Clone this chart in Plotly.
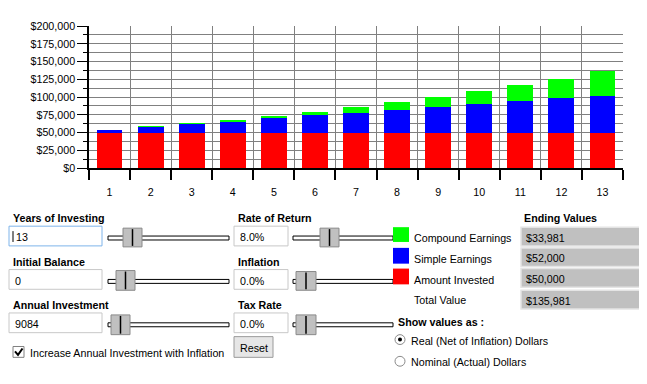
import plotly.graph_objects as go

# ---- data ----
years = list(range(1, 14))
amount_invested = [50000] * 13
simple_earnings = [4000, 8000, 12000, 16000, 20000, 24000, 28000, 32000, 36000, 40000, 44000, 48000, 52000]
compound_earnings = [0, 320, 986, 2024, 3466, 5344, 7691, 10546, 13950, 17946, 22582, 27909, 33981]
y_tick_vals = [0, 25000, 50000, 75000, 100000, 125000, 150000, 175000, 200000]
y_tick_text = ["$0", "$25,000", "$50,000", "$75,000", "$100,000", "$125,000", "$150,000", "$175,000", "$200,000"]
ending_values = ["$33,981", "$52,000", "$50,000", "$135,981"]
legend_labels = ["Compound Earnings", "Simple Earnings", "Amount Invested", "Total Value"]

# page body has an 8px margin; the figure starts at (8, 8)
OFF = 8
W, H = 647 - OFF, 384 - 2 * OFF
L, R, T, B = 89, 623, 24, 168   # plot area in page pixels
FONT = "Liberation Sans"
FS = 10.7
DY = 1.2  # text baseline nudge


def px(x):
    return (x - L) / (R - L)


def py(y):
    return (B - y) / (B - T)


fig = go.Figure()
fig.add_trace(go.Bar(x=years, y=amount_invested, marker=dict(color="#ff0000", line=dict(width=0)), width=0.63))
fig.add_trace(go.Bar(x=years, y=simple_earnings, marker=dict(color="#0000ff", line=dict(width=0)), width=0.63))
fig.add_trace(go.Bar(x=years, y=compound_earnings, marker=dict(color="#00ff00", line=dict(width=0)), width=0.63))

shapes = []
annots = []


def rect(x0, y0, x1, y1, fill, line="rgba(0,0,0,0)", lw=1):
    shapes.append(dict(type="rect", xref="paper", yref="paper", x0=px(x0), x1=px(x1), y0=py(y1), y1=py(y0),
                       fillcolor=fill, line=dict(color=line, width=lw), layer="above"))


def seg(x0, y0, x1, y1, color="black", lw=1):
    shapes.append(dict(type="line", xref="paper", yref="paper", x0=px(x0), x1=px(x1), y0=py(y0), y1=py(y1),
                       line=dict(color=color, width=lw), layer="above"))


def text(x, y, s, bold=False, size=FS, anchor="left", color="#000000"):
    annots.append(dict(xref="paper", yref="paper", x=px(x), y=py(y + DY), text=("<b>%s</b>" % s) if bold else s,
                       showarrow=False, xanchor=anchor, yanchor="middle",
                       font=dict(family=FONT, size=size, color=color)))


def slider(x0, x1, yc, tx0, tx1, ty0, ty1):
    rect(x0, yc - 2, x1, yc + 2, "#ffffff", "#000000", 1)
    rect(tx0, ty0, tx1, ty1, "#c0c0c0", "#8a8a8a", 1)
    seg((tx0 + tx1) / 2, ty0 + 1, (tx0 + tx1) / 2, ty1 - 1, "#000000", 1.5)


# left column
rows = [("Years of Investing", "13", 217, 227, 247, 239, (123, 142, 229, 248)),
        ("Initial Balance", "0", 262, 271, 291, 283, (116, 135, 272, 292)),
        ("Annual Investment", "9084", 306, 315, 335, 327, (111, 130, 317, 337))]
for i, (lab, val, ly, b0, b1, tc, th) in enumerate(rows):
    text(11, ly, lab, bold=True)
    rect(9, b0, 102, b1, "#ffffff", "#7eb4ea" if i == 0 else "#c8c8c8", 1)
    text(13 if i else 14, (b0 + b1) / 2, val)
    slider(108, 229, tc, *th)
seg(13, 232, 13, 243, "#000000", 1)

# right column
rrows = [("Rate of Return", "8.0%", 217, 227, 247, 239, (320, 339, 229, 248)),
         ("Inflation", "0.0%", 262, 271, 291, 283, (296, 316, 273, 292)),
         ("Tax Rate", "0.0%", 306, 315, 335, 327, (296, 316, 317, 337))]
for lab, val, ly, b0, b1, tc, th in rrows:
    text(236, ly, lab, bold=True)
    rect(234, b0, 288, b1, "#ffffff", "#c8c8c8", 1)
    text(238, (b0 + b1) / 2, val)
    slider(293, 393, tc, *th)

# reset button
rect(234, 339, 273, 360, "#e6e6e6", "#9a9a9a", 1)
text(253.5, 349.5, "Reset", anchor="center")

# checkbox
rect(13, 349, 24, 360, "#ffffff", "#808080", 1)
shapes.append(dict(type="path", xref="paper", yref="paper",
                   path="M %f,%f L %f,%f L %f,%f" % (px(15), py(354), px(18), py(357.5), px(22.5), py(351)),
                   line=dict(color="#000000", width=2), layer="above"))
text(28, 354, "Increase Annual Investment with Inflation")

# legend
sq = [("#00ff00", 228, 243), ("#0000ff", 249, 265), ("#ff0000", 270, 286)]
for c, y0, y1 in sq:
    rect(393, y0, 409, y1, c)
for lab, yy in zip(legend_labels, [238, 259, 280, 301]):
    text(412, yy, lab)

# ending values
text(522, 217, "Ending Values", bold=True)
for val, (y0, y1) in zip(ending_values, [(228, 247), (249, 268), (270, 289), (292, 311)]):
    rect(521, y0, 650, y1, "#c0c0c0", "#e4e4e4", 1.5)
    text(524, (y0 + y1) / 2, val)

# show values as
text(396, 323, "Show values as :", bold=True)
for yc, on, lab in [(342, True, "Real (Net of Inflation) Dollars"), (364, False, "Nominal (Actual) Dollars")]:
    shapes.append(dict(type="circle", xref="paper", yref="paper", x0=px(395), x1=px(405), y0=py(yc + 5), y1=py(yc - 5),
                       fillcolor="#ffffff", line=dict(color="#8a8a8a", width=1), layer="above"))
    if on:
        shapes.append(dict(type="circle", xref="paper", yref="paper", x0=px(398), x1=px(402), y0=py(yc + 2),
                           y1=py(yc - 2), fillcolor="#000000", line=dict(width=0), layer="above"))
    text(409, yc, lab)

fig.update_layout(
    width=W, height=H,
    margin=dict(l=L - OFF, r=(OFF + W) - R, t=T - OFF, b=(OFF + H) - B, pad=0),
    paper_bgcolor="#ffffff", plot_bgcolor="#ffffff",
    barmode="stack", showlegend=False,
    font=dict(family=FONT, size=FS, color="#000000"),
    shapes=shapes, annotations=annots,
    xaxis=dict(range=[0.5, 13.5], tickvals=years, ticktext=[str(v) for v in years],
               ticks="outside", ticklen=13, tickcolor="rgba(0,0,0,0)", showgrid=False, zeroline=False,
               showline=True, linecolor="#000000", linewidth=1.5, fixedrange=True,
               tickfont=dict(family=FONT, size=FS),
               minor=dict(tickvals=[v + 0.5 for v in range(0, 14)], ticks="outside", ticklen=10,
                          tickcolor="#000000", tickwidth=1.5, showgrid=True, gridcolor="#808080", gridwidth=1)),
    yaxis=dict(range=[0, 200000], tickvals=y_tick_vals, ticktext=y_tick_text,
               ticks="outside", ticklen=10, tickcolor="#000000", tickwidth=1,
               showgrid=True, gridcolor="#808080", gridwidth=1, zeroline=False,
               showline=True, linecolor="#000000", linewidth=1.5, fixedrange=True,
               tickfont=dict(family=FONT, size=FS),
               minor=dict(tickvals=[12500 + 25000 * i for i in range(8)], ticks="outside", ticklen=4,
                          tickcolor="#000000", showgrid=True, gridcolor="#808080", gridwidth=1)),
)

fig.write_html("out.html")
